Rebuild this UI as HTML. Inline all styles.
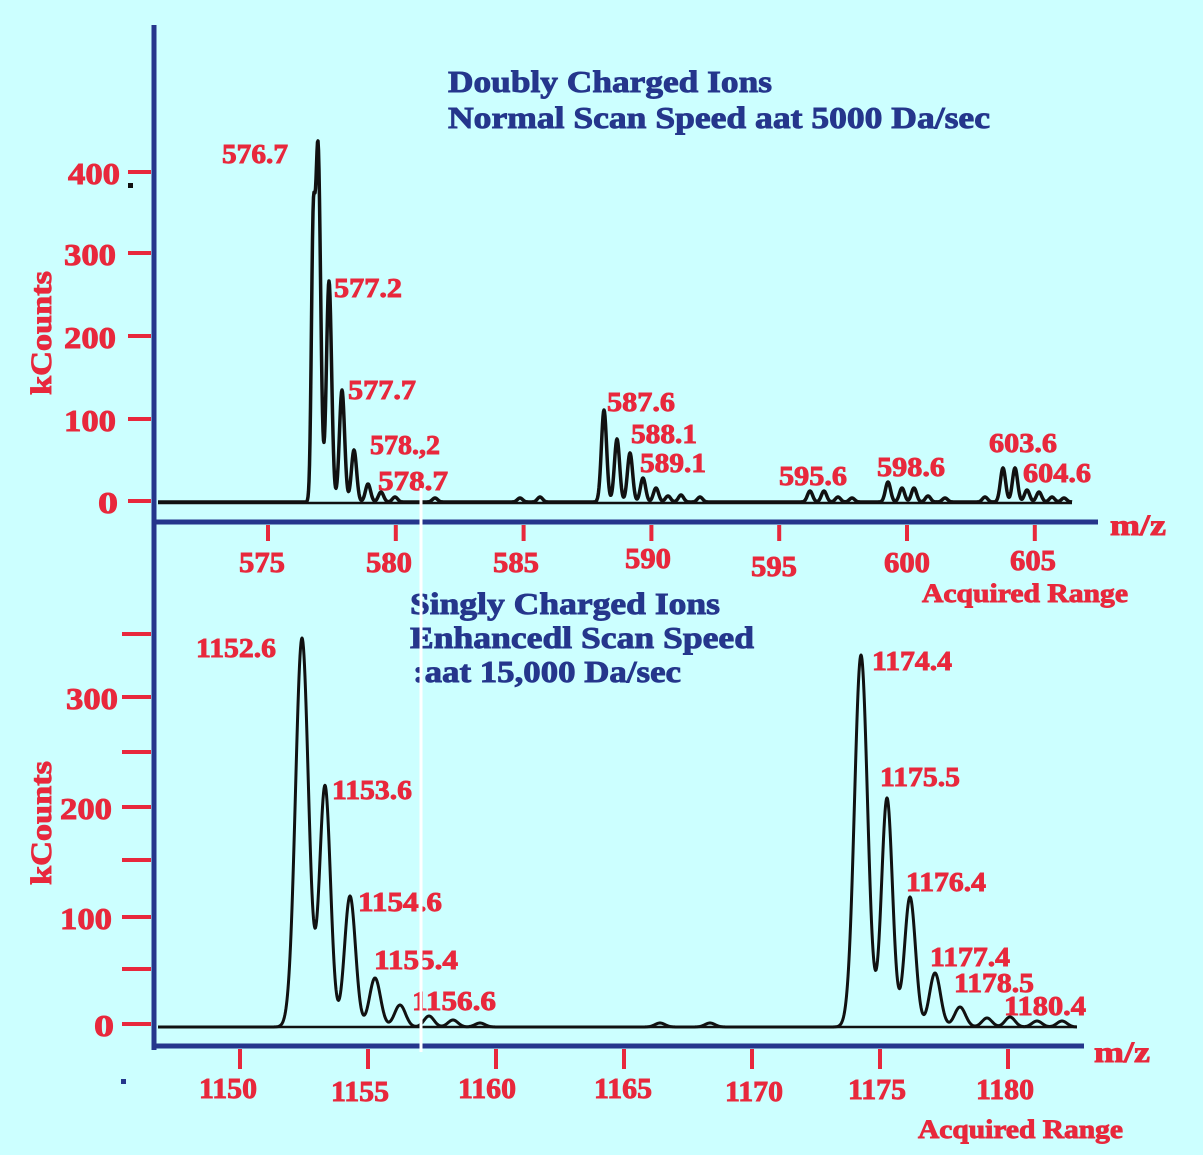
<!DOCTYPE html>
<html><head><meta charset="utf-8"><style>
html,body{margin:0;padding:0;background:#ccffff;}
svg{display:block}
text{font-family:"Liberation Serif",serif;font-weight:bold;}
.r{fill:#e8283c;stroke:#e8283c;stroke-width:0.9}
.b{fill:#25368c;stroke:#25368c;stroke-width:0.9}
</style></head><body>
<svg id="s" width="1203" height="1155" viewBox="0 0 1203 1155" xmlns="http://www.w3.org/2000/svg">
<rect width="1203" height="1155" fill="#ccffff"/>
<line x1="154" y1="25" x2="154" y2="1050" stroke="#25368c" stroke-width="5"/>
<line x1="152" y1="522" x2="1098" y2="522" stroke="#25368c" stroke-width="5"/>
<line x1="152" y1="1046" x2="1084" y2="1046" stroke="#25368c" stroke-width="5"/>
<g stroke="#e8283c" stroke-width="4">
<line x1="128" y1="172" x2="151" y2="172"/><line x1="128" y1="253" x2="151" y2="253"/>
<line x1="128" y1="336" x2="151" y2="336"/><line x1="128" y1="419" x2="151" y2="419"/>
<line x1="128" y1="501" x2="151" y2="501"/>
<line x1="122" y1="634" x2="151" y2="634"/><line x1="122" y1="697" x2="151" y2="697"/>
<line x1="122" y1="752" x2="151" y2="752"/><line x1="122" y1="807" x2="151" y2="807"/>
<line x1="122" y1="860" x2="151" y2="860"/><line x1="122" y1="917" x2="151" y2="917"/>
<line x1="122" y1="969" x2="151" y2="969"/><line x1="122" y1="1024" x2="151" y2="1024"/>
</g>
<g id="xt" stroke="#e8283c" stroke-width="4"></g>
<g class="r" font-size="31">
<text x="68" y="184" textLength="52" lengthAdjust="spacingAndGlyphs">400</text>
<text x="64" y="265" textLength="52" lengthAdjust="spacingAndGlyphs">300</text>
<text x="64" y="348" textLength="52" lengthAdjust="spacingAndGlyphs">200</text>
<text x="64" y="431" textLength="52" lengthAdjust="spacingAndGlyphs">100</text>
<text x="98" y="513" textLength="20" lengthAdjust="spacingAndGlyphs">0</text>
<text x="66" y="709" textLength="52" lengthAdjust="spacingAndGlyphs">300</text>
<text x="60" y="819" textLength="52" lengthAdjust="spacingAndGlyphs">200</text>
<text x="60" y="929" textLength="52" lengthAdjust="spacingAndGlyphs">100</text>
<text x="94" y="1036" textLength="20" lengthAdjust="spacingAndGlyphs">0</text>
</g>
<g class="r" font-size="29">
<text x="239" y="572" textLength="46" lengthAdjust="spacingAndGlyphs">575</text>
<text x="366" y="572" textLength="46" lengthAdjust="spacingAndGlyphs">580</text>
<text x="493" y="572" textLength="46" lengthAdjust="spacingAndGlyphs">585</text>
<text x="625" y="568" textLength="46" lengthAdjust="spacingAndGlyphs">590</text>
<text x="751" y="576" textLength="46" lengthAdjust="spacingAndGlyphs">595</text>
<text x="884" y="572" textLength="46" lengthAdjust="spacingAndGlyphs">600</text>
<text x="1010" y="570" textLength="46" lengthAdjust="spacingAndGlyphs">605</text>
<text x="199" y="1098" textLength="58" lengthAdjust="spacingAndGlyphs">1150</text>
<text x="331" y="1101" textLength="58" lengthAdjust="spacingAndGlyphs">1155</text>
<text x="458" y="1098" textLength="58" lengthAdjust="spacingAndGlyphs">1160</text>
<text x="594" y="1098" textLength="58" lengthAdjust="spacingAndGlyphs">1165</text>
<text x="725" y="1101" textLength="58" lengthAdjust="spacingAndGlyphs">1170</text>
<text x="848" y="1099" textLength="58" lengthAdjust="spacingAndGlyphs">1175</text>
<text x="976" y="1099" textLength="58" lengthAdjust="spacingAndGlyphs">1180</text>
</g>
<g class="r" font-size="30">
<text x="1110" y="535" textLength="56" lengthAdjust="spacingAndGlyphs">m/z</text>
<text x="1094" y="1062" textLength="56" lengthAdjust="spacingAndGlyphs">m/z</text>
<text x="922" y="602" font-size="26" textLength="206" lengthAdjust="spacingAndGlyphs">Acquired Range</text>
<text x="918" y="1138" font-size="26" textLength="205" lengthAdjust="spacingAndGlyphs">Acquired Range</text>
<text transform="translate(51,333) rotate(-90)" text-anchor="middle" textLength="124" lengthAdjust="spacingAndGlyphs">kCounts</text>
<text transform="translate(51,823) rotate(-90)" text-anchor="middle" textLength="124" lengthAdjust="spacingAndGlyphs">kCounts</text>
</g>
<g class="b" font-size="31">
<text x="448" y="92" textLength="324" lengthAdjust="spacingAndGlyphs">Doubly Charged Ions</text>
<text x="448" y="128" textLength="542" lengthAdjust="spacingAndGlyphs">Normal Scan Speed aat 5000 Da/sec</text>
<text x="410" y="614" textLength="310" lengthAdjust="spacingAndGlyphs">Singly Charged Ions</text>
<text x="410" y="648" textLength="344" lengthAdjust="spacingAndGlyphs">Enhancedl Scan Speed</text>
<text x="413" y="682" textLength="268" lengthAdjust="spacingAndGlyphs">:aat 15,000 Da/sec</text>
</g>
<g class="r" font-size="27">
<text x="222" y="163" textLength="66" lengthAdjust="spacingAndGlyphs">576.7</text>
<text x="334" y="297" textLength="68" lengthAdjust="spacingAndGlyphs">577.2</text>
<text x="348" y="399" textLength="68" lengthAdjust="spacingAndGlyphs">577.7</text>
<text x="370" y="454" textLength="70" lengthAdjust="spacingAndGlyphs">578.,2</text>
<text x="378" y="490" textLength="70" lengthAdjust="spacingAndGlyphs">578.7</text>
<text x="607" y="411" textLength="68" lengthAdjust="spacingAndGlyphs">587.6</text>
<text x="631" y="443" textLength="66" lengthAdjust="spacingAndGlyphs">588.1</text>
<text x="640" y="472" textLength="66" lengthAdjust="spacingAndGlyphs">589.1</text>
<text x="779" y="485" textLength="68" lengthAdjust="spacingAndGlyphs">595.6</text>
<text x="877" y="476" textLength="68" lengthAdjust="spacingAndGlyphs">598.6</text>
<text x="989" y="452" textLength="68" lengthAdjust="spacingAndGlyphs">603.6</text>
<text x="1023" y="482" textLength="68" lengthAdjust="spacingAndGlyphs">604.6</text>
<text x="196" y="657" textLength="80" lengthAdjust="spacingAndGlyphs">1152.6</text>
<text x="332" y="799" textLength="80" lengthAdjust="spacingAndGlyphs">1153.6</text>
<text x="358" y="911" textLength="84" lengthAdjust="spacingAndGlyphs">1154.6</text>
<text x="374" y="969" textLength="84" lengthAdjust="spacingAndGlyphs">1155.4</text>
<text x="412" y="1010" textLength="84" lengthAdjust="spacingAndGlyphs">1156.6</text>
<text x="872" y="670" textLength="80" lengthAdjust="spacingAndGlyphs">1174.4</text>
<text x="880" y="786" textLength="80" lengthAdjust="spacingAndGlyphs">1175.5</text>
<text x="906" y="891" textLength="80" lengthAdjust="spacingAndGlyphs">1176.4</text>
<text x="930" y="966" textLength="80" lengthAdjust="spacingAndGlyphs">1177.4</text>
<text x="954" y="992" textLength="80" lengthAdjust="spacingAndGlyphs">1178.5</text>
<text x="1004" y="1015" textLength="82" lengthAdjust="spacingAndGlyphs">1180.4</text>
</g>
<path id="p1" fill="none" stroke="#111" stroke-width="3.5" stroke-linejoin="round"/>
<path id="p2" fill="none" stroke="#111" stroke-width="3" stroke-linejoin="round"/>
<line x1="158" y1="503" x2="1072" y2="503" stroke="#111" stroke-width="2.5"/>
<line x1="158" y1="1027" x2="1077" y2="1027" stroke="#111" stroke-width="2.5"/>
<line x1="421" y1="488" x2="421" y2="1052" stroke="#fff" stroke-width="3"/>
<rect x="128" y="183" width="5" height="5" fill="#111"/>
<rect x="121" y="1079" width="5" height="5" fill="#25368c"/>
</svg>
<script>
(function(){
var ns="http://www.w3.org/2000/svg",g=document.getElementById("xt");
function tk(x,y1,y2){var l=document.createElementNS(ns,"line");l.setAttribute("x1",x);l.setAttribute("x2",x);l.setAttribute("y1",y1);l.setAttribute("y2",y2);g.appendChild(l);}
for(var v=575;v<=605;v+=5)tk(268+(v-575)*25.56,525,541);
for(var v=1150;v<=1180;v+=5)tk(240+(v-1150)*25.6,1049,1069);
function path(id,x0,x1,base,peaks,sig){
 var d="";for(var x=x0;x<=x1;x+=0.5){var y=base;for(var i=0;i<peaks.length;i++){var p=peaks[i],s=p[2]||sig,dx=x-p[0];y-=(base-p[1])*Math.exp(-dx*dx/(2*s*s));}
 d+=(x==x0?"M":"L")+x.toFixed(1)+","+y.toFixed(1);}
 document.getElementById(id).setAttribute("d",d);}
path("p1",158,1072,502,[[313,268,1.8],[318,146],[329,281],[342,390],[354,450],[368,484],[381,492],[395,497],[435,498],[520,498],[540,497],
[604,410],[617,439],[630,453],[643,478],[656,488],[668,496],[681,495],[700,497],
[810,491],[824,491],[838,497],[852,498],[888,482],[902,488],[914,488],[928,496],[945,498],[985,497],
[1003,468],[1015,468],[1027,490],[1039,492],[1052,497],[1064,498]],2.6);
path("p2",158,1077,1027,[[302,638,6.5],[325,786,5.5],[350,896,5.5],[375,978,5.5],[400,1005,5.5],[429,1016,5],[453,1020,5],[480,1023,5],[660,1023,5],[710,1023,5],
[861,655,6.5],[887,798,5.5],[910,897,5.5],[935,973,5.5],[960,1007,5.5],[987,1018,5],[1010,1017,5],[1037,1021,5],[1062,1021,5]],6);
})();
</script>
</body></html>
